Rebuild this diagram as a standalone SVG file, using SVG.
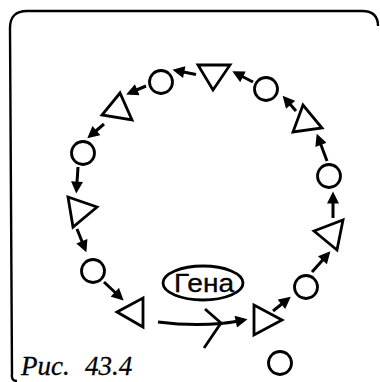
<svg xmlns="http://www.w3.org/2000/svg" width="380" height="382" viewBox="0 0 380 382">
<defs>
<marker id="ah" viewBox="0 0 10 10" refX="7" refY="5" markerWidth="13" markerHeight="12" markerUnits="userSpaceOnUse" orient="auto">
<path d="M0,0 L10,5 L0,10 z" fill="#000"/>
</marker>
</defs>
<style>
.sh{fill:none;stroke:#000;stroke-width:2.8;stroke-linejoin:miter}
.ar{fill:none;stroke:#000;stroke-width:3;marker-end:url(#ah)}
.frame{fill:none;stroke:#000;stroke-width:2.4}
.lbl{font-family:"Liberation Sans",Arial,sans-serif;font-size:25px;fill:#000;stroke:#000;stroke-width:0.3}
.cap{font-family:"Liberation Serif","Times New Roman",serif;font-style:italic;font-size:27px;fill:#000;stroke:#000;stroke-width:0.3}
</style>
<path class="frame" d="M12,374 Q11,381 17,381 M12,374 L10,28 Q10,11 27,11 L362,11 Q378,11 378,26"/>
<g id="connectors">
<line class="ar" x1="196" y1="74.5" x2="176" y2="70.5"/>
<line class="ar" x1="146" y1="86" x2="129.5" y2="93"/>
<line class="ar" x1="104" y1="124" x2="90" y2="136"/>
<line class="ar" x1="78" y1="167" x2="76.5" y2="190"/>
<line class="ar" x1="77" y1="229" x2="85" y2="249"/>
<line class="ar" x1="104" y1="282" x2="121" y2="298"/>
<path class="ar" d="M158,322 Q205,328 244,320"/>
<line class="ar" x1="273" y1="311" x2="288" y2="299"/>
<line class="ar" x1="312" y1="272" x2="328" y2="254"/>
<line class="ar" x1="333" y1="218" x2="333" y2="195"/>
<line class="ar" x1="327" y1="161" x2="318" y2="137"/>
<line class="ar" x1="296" y1="111" x2="285" y2="98.5"/>
<line class="ar" x1="253" y1="82" x2="235.5" y2="73"/>
<path class="sh" d="M205,309 L221,323 L204,348" stroke-width="2.6"/>
</g>
<g id="gena">
<ellipse class="sh" cx="203" cy="283" rx="40" ry="17" stroke-width="2.6"/>
<text class="lbl" x="204" y="292" text-anchor="middle" textLength="60" lengthAdjust="spacingAndGlyphs">Гена</text>
</g>
<g id="n_tri_top"><polygon class="sh" points="198,65 230,65 213,90"/></g>
<g id="n_c1"><circle class="sh" cx="161" cy="82" r="11.5"/></g>
<g id="n_tri1"><polygon class="sh" points="120,93 102,115 132,120"/></g>
<g id="n_c2"><circle class="sh" cx="83" cy="153" r="11.5"/></g>
<g id="n_tri2"><polygon class="sh" points="68,197 97,207 73,227"/></g>
<g id="n_c3"><circle class="sh" cx="93" cy="271" r="11.5"/></g>
<g id="n_tri3"><polygon class="sh" points="117,312 143,298 143,327"/></g>
<g id="n_tri4"><polygon class="sh" points="254,305 254,335 282,320"/></g>
<g id="n_c4"><circle class="sh" cx="306" cy="287" r="11.5"/></g>
<g id="n_tri5"><polygon class="sh" points="314,231 343,220 337,250"/></g>
<g id="n_c5"><circle class="sh" cx="329" cy="176" r="11.5"/></g>
<g id="n_tri6"><polygon class="sh" points="303,105 293,132 322,128"/></g>
<g id="n_c6"><circle class="sh" cx="266" cy="89" r="11.5"/></g>
<g id="n_c7"><circle class="sh" cx="280" cy="363" r="11.5"/></g>
<text class="cap" x="21" y="375">Рис.</text>
<text class="cap" x="85" y="375">43.4</text>
</svg>
